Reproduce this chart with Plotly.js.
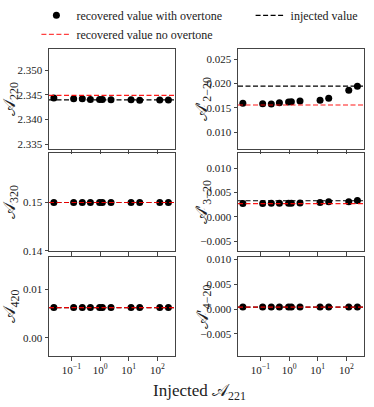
<!DOCTYPE html>
<html>
<head>
<meta charset="utf-8">
<script src="https://cdn.plot.ly/plotly-3.0.1.min.js"></script>
<style>
  html, body { margin: 0; padding: 0; background: #fff; }
  #chart { width: 374px; height: 407px; }
</style>
</head>
<body>
<div id="chart"></div>
<script>
// ── Data ──────────────────────────────────────────────────────────────────────
const injectedA221 = [0.0245, 0.12, 0.24, 0.46, 0.96, 1.2, 2.4, 12, 24, 120, 240];

const recA220 = [2.34434, 2.3442, 2.3442, 2.34407, 2.34407, 2.34407, 2.3440, 2.3440, 2.34393, 2.34397, 2.34397];
const recA320 = [0.15, 0.15, 0.15, 0.15, 0.15, 0.15, 0.15, 0.15, 0.15, 0.15, 0.15];
const recA420 = [0.0062, 0.0062, 0.0062, 0.0062, 0.0062, 0.0062, 0.0062, 0.0062, 0.0062, 0.0062, 0.0062];
const recA2m20 = [0.0159, 0.01582, 0.01576, 0.01603, 0.01617, 0.01624, 0.01638, 0.01652, 0.01693, 0.01858, 0.0194];
const recA3m20 = [0.00272, 0.00272, 0.0028, 0.0028, 0.0028, 0.0028, 0.00285, 0.00295, 0.0031, 0.0031, 0.00335];
const recA4m20 = [0.0004, 0.0004, 0.0004, 0.0004, 0.0004, 0.0004, 0.0004, 0.0004, 0.0004, 0.0004, 0.0004];

// injected value / value recovered without overtone
const injectedVals = [2.3440, 0.15, 0.0062, 0.01944, 0.0033, 0.0004];
const noOvertoneVals = [2.3449, 0.15, 0.0062, 0.01556, 0.00272, 0.0004];

const panelLabels = [
  '𝒜<sub>220</sub>', '𝒜<sub>320</sub>', '𝒜<sub>420</sub>',
  '𝒜′<sub>2−20</sub>', '𝒜′<sub>3−20</sub>', '𝒜′<sub>4−20</sub>',
];
const recSeries = [recA220, recA320, recA420, recA2m20, recA3m20, recA4m20];

const yTickVals = [
  [2.335, 2.340, 2.345, 2.350],
  [0.14, 0.15],
  [0.00, 0.01],
  [0.010, 0.015, 0.020, 0.025],
  [-0.005, 0.000, 0.005, 0.010],
  [-0.005, 0.000, 0.005, 0.010],
];
const yTickFormats = ['.3f', '.2f', '.2f', '.3f', '.3f', '.3f'];
const xTickVals = [0.1, 1, 10, 100];
const xTickText = ['10<sup>−1</sup>', '10<sup>0</sup>', '10<sup>1</sup>', '10<sup>2</sup>'];

// ── Layout helpers ────────────────────────────────────────────────────────────
const FONT = 'Liberation Serif';
const yRanges = [
  [2.33405, 2.35425], [0.13995, 0.16025], [-0.00376, 0.01657],
  [0.0065, 0.02706], [-0.00704, 0.01312], [-0.00941, 0.0104],
];
const colDomains = [[0, 0.4], [0.6, 1]];
const rowDomains = [[0.674, 1], [0.342, 0.661], [0, 0.322]];
const DASH = '5px,2.5px';

const traces = [];
const shapes = [];
const annotations = [];
const layout = {
  width: 374, height: 407,
  margin: { l: 49, r: 10, t: 49, b: 51 },
  paper_bgcolor: '#fff', plot_bgcolor: '#fff',
  font: { family: FONT, size: 11, color: '#222' },
  showlegend: true,
  legend: {
    x: -0.04, xanchor: 'left', yref: 'container', y: 0.998, yanchor: 'top',
    bgcolor: 'rgba(0,0,0,0)', font: { family: FONT, size: 12, color: '#222' },
    tracegroupgap: 0,
  },
  legend2: {
    x: 0.64, xanchor: 'left', yref: 'container', y: 0.998, yanchor: 'top',
    bgcolor: 'rgba(0,0,0,0)', font: { family: FONT, size: 12, color: '#222' },
  },
};

// panel i: 0..2 left column (top→bottom), 3..5 right column
recSeries.forEach((ys, i) => {
  const col = i < 3 ? 0 : 1;
  const row = i % 3;
  const n = row * 2 + col + 1;
  const xa = n === 1 ? 'x' : 'x' + n;
  const ya = n === 1 ? 'y' : 'y' + n;

  traces.push({
    x: injectedA221, y: ys, xaxis: xa, yaxis: ya,
    type: 'scatter', mode: 'markers',
    marker: { color: '#000', size: 7 },
    name: 'recovered value with overtone',
    showlegend: i === 0, legend: 'legend',
    hoverinfo: 'skip',
  });

  shapes.push({
    type: 'line', xref: xa + ' domain', yref: ya, x0: 0, x1: 1,
    y0: injectedVals[i], y1: injectedVals[i], layer: 'above',
    line: { color: '#000', width: 1.2, dash: DASH },
  });
  shapes.push({
    type: 'line', xref: xa + ' domain', yref: ya, x0: 0, x1: 1,
    y0: noOvertoneVals[i], y1: noOvertoneVals[i], layer: 'above', opacity: 0.9,
    line: { color: '#ff0000', width: 1.2, dash: DASH },
  });

  layout['xaxis' + (n === 1 ? '' : n)] = {
    type: 'log', domain: colDomains[col], anchor: ya,
    range: [-1.78, 2.61],
    tickvals: xTickVals, ticktext: xTickText,
    showticklabels: row === 2,
    ticks: 'outside', ticklen: 3.5, tickwidth: 1, tickcolor: '#444',
    showline: true, mirror: true, linecolor: '#444', linewidth: 1,
    showgrid: false, zeroline: false,
    tickfont: { family: FONT, size: 11, color: '#222' },
  };
  layout['yaxis' + (n === 1 ? '' : n)] = {
    domain: rowDomains[row], anchor: xa,
    range: yRanges[i],
    tickvals: yTickVals[i], tickformat: yTickFormats[i],
    ticks: 'outside', ticklen: 3.5, tickwidth: 1, tickcolor: '#444',
    showline: true, mirror: true, linecolor: '#444', linewidth: 1,
    showgrid: false, zeroline: false,
    tickfont: { family: FONT, size: 11, color: '#222' },
  };

  const d = rowDomains[row];
  annotations.push({
    text: panelLabels[i], textangle: -90, showarrow: false,
    xref: 'paper', yref: 'paper',
    x: col === 0 ? -0.121 : 0.49, y: (d[0] + d[1]) / 2,
    xanchor: 'center', yanchor: 'middle',
    font: { family: FONT, size: 17, color: '#222' },
  });
});

// legend-only entries for the dashed lines
traces.push({
  x: [null], y: [null], type: 'scatter', mode: 'lines',
  name: 'recovered value no overtone', legend: 'legend',
  line: { color: '#ff0000', width: 1.2, dash: DASH }, opacity: 0.75,
});
traces.push({
  x: [null], y: [null], type: 'scatter', mode: 'lines',
  name: 'injected value', legend: 'legend2',
  line: { color: '#000', width: 1.2, dash: DASH },
});

annotations.push({
  text: 'Injected 𝒜<sub>221</sub>', showarrow: false,
  xref: 'paper', yref: 'paper', x: 0.479, y: -0.117,
  xanchor: 'center', yanchor: 'middle',
  font: { family: FONT, size: 17, color: '#222' },
});

layout.shapes = shapes;
layout.annotations = annotations;

Plotly.newPlot('chart', traces, layout, { displayModeBar: false, staticPlot: true });
</script>
</body>
</html>
